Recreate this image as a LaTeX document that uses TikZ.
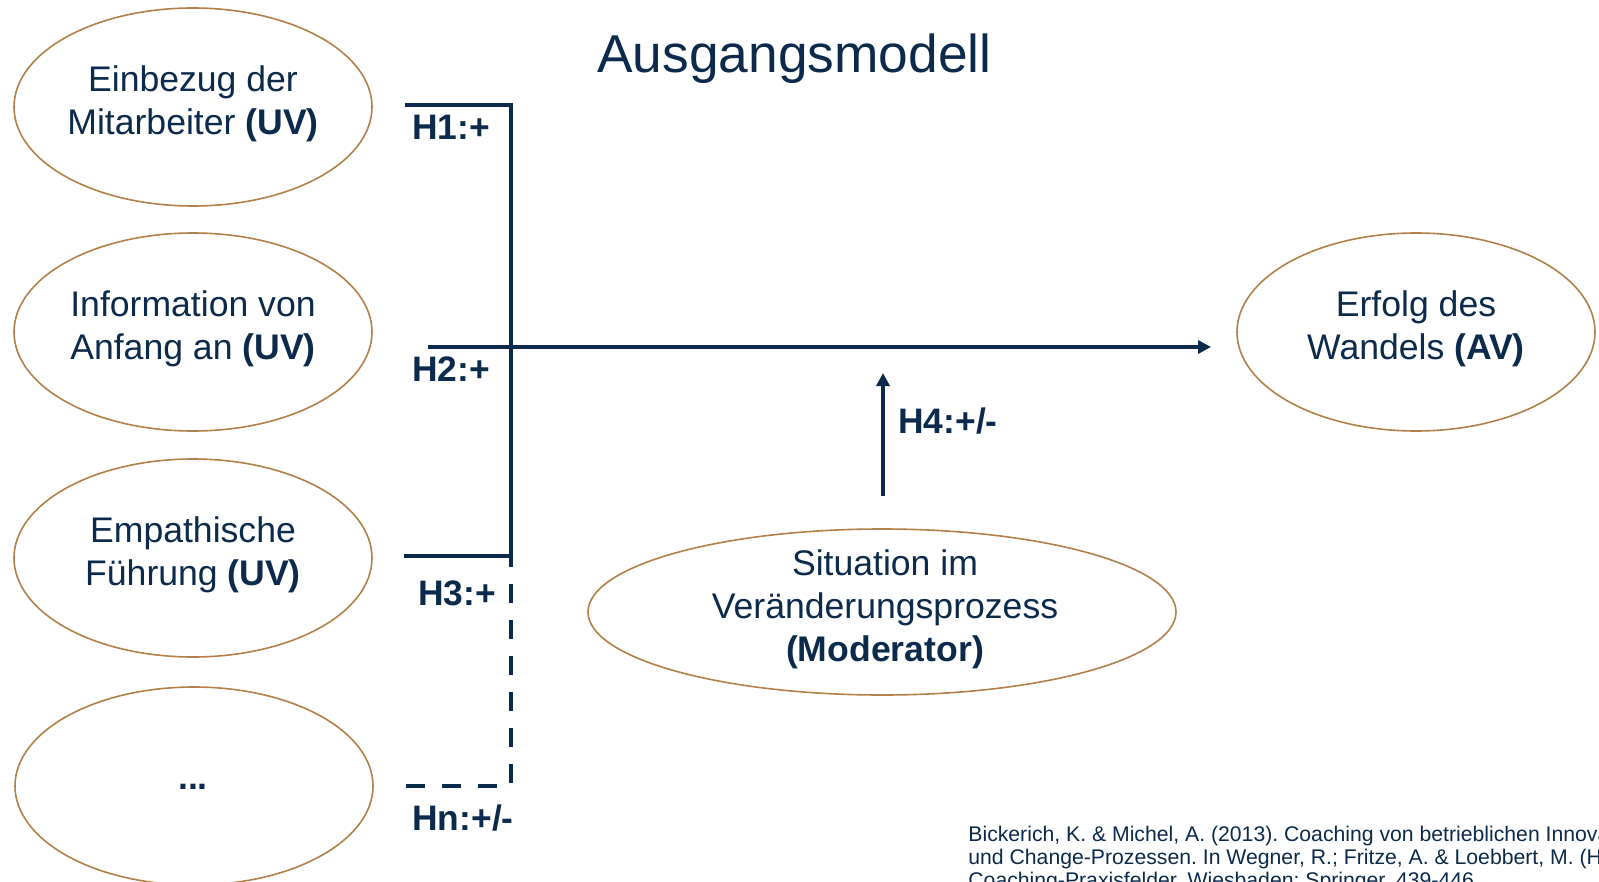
\documentclass[tikz,border=0pt]{standalone}
\usepackage{fontspec}
\setmainfont{Liberation Sans}
\usetikzlibrary{shapes.geometric,arrows.meta}
\definecolor{navy}{RGB}{12,42,75}
\definecolor{gold}{RGB}{178,128,72}
\frenchspacing
\begin{document}
\begin{tikzpicture}[x=0.5pt,y=-0.5pt,
  oval/.style={ellipse,draw=gold,line width=0.8pt,inner sep=0pt,minimum width=179pt,minimum height=99pt},
  otext/.style={text=navy,align=center,font=\fontsize{17.8}{21.5}\selectfont,inner sep=0pt},
  hyp/.style={text=navy,font=\fontsize{17.7}{20}\selectfont\bfseries,inner sep=0pt,anchor=base west},
  cite/.style={text=navy,font=\fontsize{10.6}{11.6}\selectfont,inner sep=0pt,anchor=base west},
  link/.style={draw=navy,line width=1.7pt},
  tip/.style={-{Triangle[length=6.5pt,width=6.5pt]}}
]
\clip (0,0) rectangle (1599,882);
\fill[white] (0,0) rectangle (1599,882);

% ellipses
\node[oval] (e1) at (193,107) {};
\node[oval] (e2) at (193,332) {};
\node[oval] (e3) at (193,558) {};
\node[oval] (e4) at (194,786) {};
\node[oval] (av) at (1416,332) {};
\node[oval,minimum width=294pt,minimum height=83pt] (mod) at (882,612) {};

% ellipse texts
\node[otext] (t1) at (193,104) {Einbezug der\\Mitarbeiter \textbf{(UV)}};
\node[otext] (t2) at (193,329) {Information von\\Anfang an \textbf{(UV)}};
\node[otext] (t3) at (193,555) {Empathische\\Führung \textbf{(UV)}};
\node[otext,anchor=base] (t4) at (193,789) {\textbf{...}};
\node[otext] (tav) at (1416,329) {Erfolg des\\Wandels \textbf{(AV)}};
\node[otext] (tmod) at (885,609) {Situation im\\Veränderungsprozess\\\textbf{(Moderator)}};

% title
\node[anchor=base west,text=navy,font=\fontsize{26.65}{32}\selectfont,inner sep=0pt] (title) at (597,73) {Ausgangsmodell};

% connector coordinates
\coordinate (a1) at (405,105); \coordinate (b1) at (511,105);
\coordinate (a2) at (428,347); \coordinate (c2) at (1211,347);
\coordinate (a3) at (404,556); \coordinate (b3) at (511,556);
\coordinate (a4) at (405,786); \coordinate (b4) at (511,786);
\coordinate (m1) at (883,496); \coordinate (m2) at (883,373);

\draw[link] (a1) -- (b1) -- (b3) -- (a3);
\draw[link,tip] (a2) -- (c2);
\draw[link,dash pattern=on 9.5pt off 8.5pt,dash phase=4pt] (b3) -- (b4) -- (a4);
\draw[link,tip] (m1) -- (m2);

% hypothesis labels
\node[hyp] (h1) at (412,140) {H1:+};
\node[hyp] (h2) at (412,381.5) {H2:+};
\node[hyp] (h3) at (418,605) {H3:+};
\node[hyp] (hn) at (412,830) {Hn:+/-};
\node[hyp] (h4) at (898,433) {H4:+/-};

% citation
\node[cite] (c1) at (968,841) {Bickerich, K. \& Michel, A. (2013). Coaching von betrieblichen Innovations-};
\node[cite] (c2) at (968,864) {und Change-Prozessen. In Wegner, R.; Fritze, A. \& Loebbert, M. (Hrsg.),};
\node[cite] (c3) at (968,887) {Coaching-Praxisfelder. Wiesbaden: Springer, 439-446.};
\end{tikzpicture}
\end{document}
